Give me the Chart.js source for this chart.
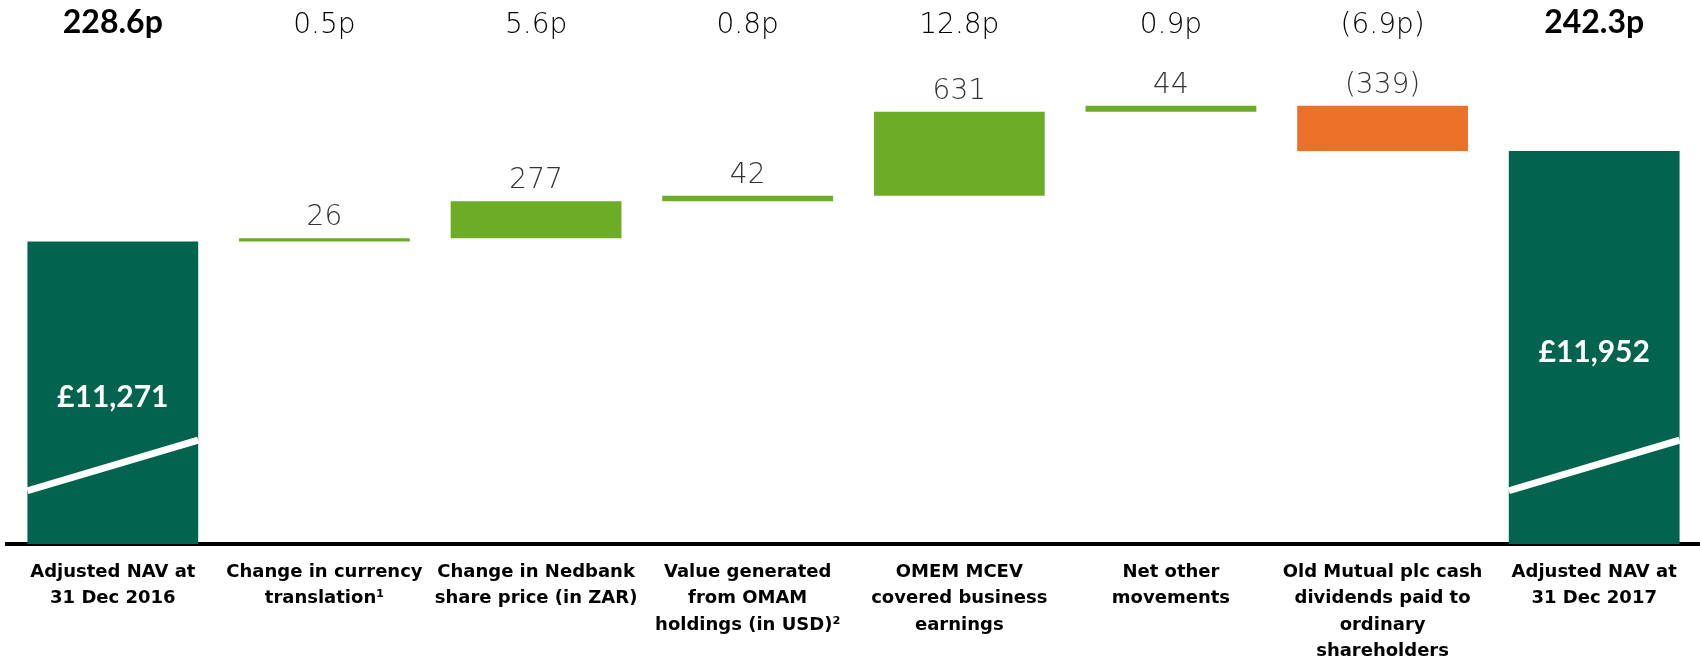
<!DOCTYPE html>
<html>
<head>
<meta charset="utf-8">
<script src="https://cdn.jsdelivr.net/npm/chart.js@4.4.1/dist/chart.umd.min.js"></script>
<style>
  html, body { margin: 0; padding: 0; background: #ffffff; }
  canvas { display: block; }
</style>
</head>
<body>
<canvas id="c" width="1700" height="663"></canvas>
<script>
// ---- Data ----
const categories = [
  ['Adjusted NAV at', '31 Dec 2016'],
  ['Change in currency', 'translation\u00B9'],
  ['Change in Nedbank', 'share price (in ZAR)'],
  ['Value generated', 'from OMAM', 'holdings (in USD)\u00B2'],
  ['OMEM MCEV', 'covered business', 'earnings'],
  ['Net other', 'movements'],
  ['Old Mutual plc cash', 'dividends paid to', 'ordinary', 'shareholders'],
  ['Adjusted NAV at', '31 Dec 2017']
];
const pencePerShare = ['228.6p', '0.5p', '5.6p', '0.8p', '12.8p', '0.9p', '(6.9p)', '242.3p'];
const amounts = [11271, 26, 277, 42, 631, 44, -339, 11952];   // £m
const isTotal = [true, false, false, false, false, false, false, true];
const axisMin = 9000;
const axisMax = 12800;
const breakFrom = 9400;   // axis-break marker, left end (value)
const breakTo = 9780;     // axis-break marker, right end (value)

// ---- Build floating bars ----
const floats = [];
const colors = [];
let running = 0;
amounts.forEach((v, i) => {
  if (isTotal[i]) {
    floats.push([axisMin, v]);
    running = v;
    colors.push('#02634F');
  } else {
    const start = running;
    running += v;
    floats.push([start, running]);
    colors.push(v >= 0 ? '#6DAC26' : '#EB7128');
  }
});

function fmtValue(v, total) {
  const s = Math.abs(v).toLocaleString('en-GB');
  if (total) return '\u00A3' + s;
  return v < 0 ? '(' + s + ')' : s;
}

const labelPlugin = {
  id: 'waterfallLabels',
  afterDatasetsDraw(chart) {
    const ctx = chart.ctx;
    const meta = chart.getDatasetMeta(0);
    const y = chart.scales.y;
    ctx.save();
    meta.data.forEach((bar, i) => {
      const left = bar.x - bar.width / 2;
      const right = bar.x + bar.width / 2;
      // pence per share row
      ctx.textAlign = 'center';
      ctx.textBaseline = 'alphabetic';
      ctx.fillStyle = '#000000';
      ctx.font = isTotal[i] ? 'bold 32px Lato' : '200 28px "DejaVu Sans"';
      ctx.fillText(pencePerShare[i], bar.x, 33);
      if (isTotal[i]) {
        // axis break marker
        ctx.strokeStyle = '#ffffff';
        ctx.lineWidth = 7;
        ctx.beginPath();
        ctx.moveTo(left, y.getPixelForValue(breakFrom));
        ctx.lineTo(right, y.getPixelForValue(breakTo));
        ctx.stroke();
        // value inside bar
        ctx.fillStyle = '#ffffff';
        ctx.font = 'bold 30px Lato';
        ctx.textBaseline = 'middle';
        const top = Math.min(bar.y, bar.base);
        ctx.fillText(fmtValue(amounts[i], true), bar.x, (top + bar.base) / 2 + 5);
      } else {
        const top = Math.min(bar.y, bar.base);
        ctx.fillStyle = '#333333';
        ctx.font = '200 28px "DejaVu Sans"';
        ctx.textBaseline = 'alphabetic';
        ctx.fillText(fmtValue(amounts[i], false), bar.x, top - 13);
      }
    });
    ctx.restore();
  }
};

new Chart(document.getElementById('c'), {
  type: 'bar',
  data: {
    labels: categories,
    datasets: [{
      data: floats,
      backgroundColor: colors,
      borderWidth: 0,
      barPercentage: 0.807,
      categoryPercentage: 1.0
    }]
  },
  options: {
    responsive: false,
    devicePixelRatio: 1,
    animation: false,
    layout: { padding: { left: 7, right: 0, top: 38, bottom: 0 } },
    plugins: { legend: { display: false }, tooltip: { enabled: false } },
    scales: {
      x: {
        grid: { display: false, drawTicks: false },
        border: { display: true, color: '#000000', width: 4 },
        ticks: {
          color: '#000000',
          font: { family: '"DejaVu Sans"', size: 18, weight: 'bold', lineHeight: 1.47 },
          padding: 15,
          autoSkip: false,
          maxRotation: 0,
          minRotation: 0
        },
        afterFit(scale) { scale.height = 119; }
      },
      y: {
        display: false,
        min: axisMin,
        max: axisMax
      }
    }
  },
  plugins: [labelPlugin]
});
</script>
</body>
</html>
